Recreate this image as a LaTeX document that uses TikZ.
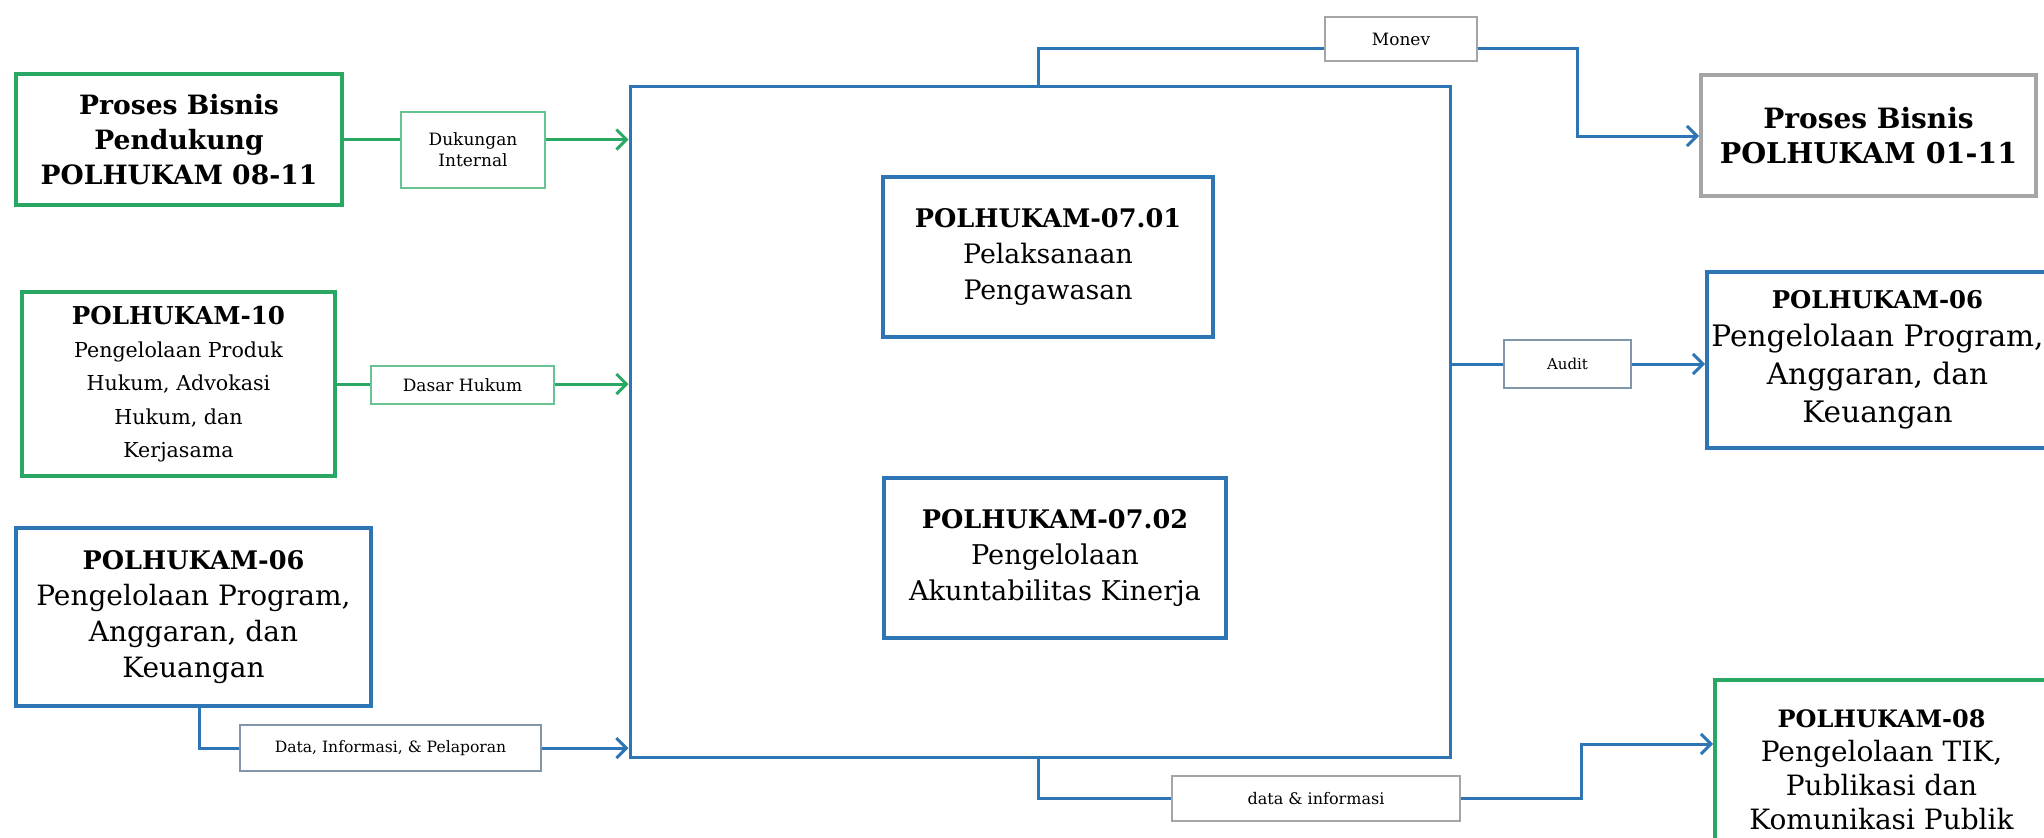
\documentclass[tikz,border=0pt]{standalone}
\usepackage{fontspec}
\setmainfont{DejaVu Serif}
\usetikzlibrary{arrows.meta,positioning,calc}
\definecolor{hijau}{RGB}{40,168,98}
\definecolor{biru}{RGB}{46,117,182}
\definecolor{abu}{RGB}{165,165,165}
\definecolor{abubiru}{RGB}{130,150,170}
\newcommand{\kode}[2][12.8]{{\fontsize{#1}{18}\selectfont\bfseries #2}}

\begin{document}
\begin{tikzpicture}[x=0.5pt, y=-0.5pt,
    proses/.style={rectangle, draw, line width=2pt, fill=white, align=center, inner sep=2pt, font=\fontsize{14}{18}\selectfont},
    alur/.style={rectangle, draw, line width=0.6pt, fill=white, align=center, inner sep=1pt, font=\fontsize{8.5}{10.5}\selectfont},
    garis/.style={line width=1.5pt},
    panah/.style={line width=1.5pt, -{Straight Barb[length=5pt,width=10pt,line width=1.5pt]}}
]
\useasboundingbox (0,0) rectangle (2044,837);

% proses masukan
\node[proses, draw=hijau, minimum width=163pt, minimum height=65.5pt, font=\fontsize{13.3}{17.3}\selectfont] (pendukung) at (179,139.5) {\kode[13.3]{Proses Bisnis}\\\kode[13.3]{Pendukung}\\\kode[13.3]{POLHUKAM 08-11}};
\node[proses, draw=hijau, minimum width=156.5pt, minimum height=92pt, font=\fontsize{10.3}{16.6}\selectfont] (p10) at (178.5,384) {\kode[12.3]{POLHUKAM-10}\\Pengelolaan Produk\\Hukum, Advokasi\\Hukum, dan\\Kerjasama};
\node[proses, draw=biru, minimum width=177.5pt, minimum height=89pt] (p06kiri) at (193.5,617) {\kode{POLHUKAM-06}\\Pengelolaan Program,\\Anggaran, dan\\Keuangan};

% proses utama
\node[rectangle, draw=biru, line width=1.5pt, minimum width=410pt, minimum height=335.5pt] (utama) at (1040,421.5) {};
\node[proses, draw=biru, minimum width=165pt, minimum height=80pt, font=\fontsize{13.4}{18}\selectfont] (p0701) at (1048,257) {\kode{POLHUKAM-07.01}\\Pelaksanaan\\Pengawasan};
\node[proses, draw=biru, minimum width=171pt, minimum height=80pt, font=\fontsize{13.6}{18}\selectfont] (p0702) at (1055,558) {\kode{POLHUKAM-07.02}\\Pengelolaan\\Akuntabilitas Kinerja};

% proses keluaran
\node[proses, draw=abu, minimum width=167.5pt, minimum height=60.5pt, font=\fontsize{14}{17.5}\selectfont] (semua) at (1868.5,135.5) {\kode[14]{Proses Bisnis}\\\kode[14.3]{POLHUKAM 01-11}};
\node[proses, draw=biru, minimum width=170.5pt, minimum height=88pt, font=\fontsize{14.8}{19}\selectfont] (p06kanan) at (1877.5,360) {\kode[12.2]{POLHUKAM-06}\\Pengelolaan Program,\\Anggaran, dan\\Keuangan};
\node[proses, draw=hijau, minimum width=166.5pt, minimum height=90pt, font=\fontsize{14}{17}\selectfont] (p08) at (1881.5,770) {\kode[12]{POLHUKAM-08}\\Pengelolaan TIK,\\Publikasi dan\\Komunikasi Publik};

% label alur
\node[alur, draw=hijau!70, minimum width=72pt, minimum height=38pt] (dukungan) at (473,150) {Dukungan\\Internal};
\node[alur, draw=hijau!70, minimum width=91.5pt, minimum height=19pt] (dasar) at (462.5,385) {Dasar Hukum};
\node[alur, draw=abubiru, minimum width=150.5pt, minimum height=23pt, font=\fontsize{7.8}{9}\selectfont] (datalapor) at (390.5,748) {Data, Informasi, \& Pelaporan};
\node[alur, draw=abu, minimum width=76pt, minimum height=22pt] (monev) at (1401,39) {Monev};
\node[alur, draw=abubiru, minimum width=63.5pt, minimum height=24pt, font=\fontsize{7.5}{9}\selectfont] (audit) at (1567.5,364) {Audit};
\node[alur, draw=abu, minimum width=144pt, minimum height=22.5pt, font=\fontsize{8}{10}\selectfont] (datainfo) at (1316,798.5) {data \& informasi};

\coordinate (m0) at (1038,48);
\coordinate (m1) at (1577,136);
\coordinate (b0) at (1038,798);
\coordinate (b1) at (1581,744);

% masukan
\draw[garis, hijau] (pendukung.east) -- (pendukung.east -| dukungan.west);
\draw[panah, hijau] (pendukung.east -| dukungan.east) -- (pendukung.east -| utama.west);
\draw[garis, hijau] (p10.east) -- (p10.east -| dasar.west);
\draw[panah, hijau] (p10.east -| dasar.east) -- (p10.east -| utama.west);
\draw[garis, biru] (p06kiri.south -| 199,0) |- (datalapor.west);
\draw[panah, biru] (datalapor.east) -- (datalapor.east -| utama.west);

% keluaran
\draw[garis, biru] (utama.north -| m0) -- (m0) -- (m0 -| monev.west);
\draw[panah, biru] (m0 -| monev.east) -| (m1) -- (m1 -| semua.west);
\draw[garis, biru] (utama.east |- audit) -- (audit.west);
\draw[panah, biru] (audit.east) -- (audit.east -| p06kanan.west);
\draw[garis, biru] (utama.south -| b0) |- (datainfo.west);
\draw[panah, biru] (datainfo.east) -| (b1) -- (b1 -| p08.west);

\end{tikzpicture}
\end{document}
